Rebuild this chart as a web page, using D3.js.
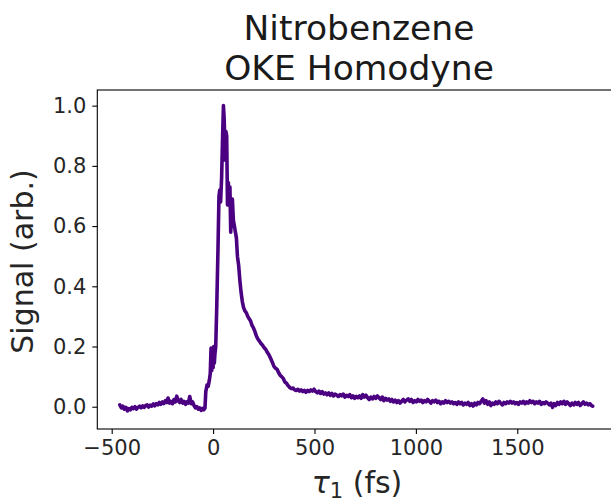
<!DOCTYPE html>
<html>
<head>
<meta charset="utf-8">
<script src="https://cdn.jsdelivr.net/npm/d3@7"></script>
<style>
  html, body { margin: 0; padding: 0; background: #fff; }
  svg { display: block; font-family: "DejaVu Sans", sans-serif; }
</style>
</head>
<body>
<svg id="chart" width="611" height="499"></svg>
<script>
// ---- data ----
const titleLines = ["Nitrobenzene", "OKE Homodyne"];
const yLabel = "Signal (arb.)";
const xTicks = [-500, 0, 500, 1000, 1500];
const yTicks = [0.0, 0.2, 0.4, 0.6, 0.8, 1.0];
const xLimits = [-571, 2010];
const yLimits = [-0.074, 1.052];

const delays = [
  -460,-452,-445,-438,-430,-422,-415,-408,-400,-393,-385,-378,-370,-362,-355,-347,-340,-332,-325,-318,
  -310,-303,-295,-288,-280,-272,-265,-258,-250,-243,-235,-228,-222,-215,-208,-200,-193,-186,-179,-172,
  -165,-158,-150,-143,-136,-129,-122,-115,-108,-101,-94,-87,-80,-73,-66,-59,-52,-46,-40,-36,
  -30,-24,-18,-14,-10,-7,-4,0,3,6,9,13,18,24,29,33,37,42,47,51,
  55,59,63,67,71,75,79,83,87,91,95,100,105,110,115,120,126,132,138,144,
  150,157,164,171,178,185,192,199,206,213,220,228,236,244,252,260,268,276,284,292,
  300,308,316,324,331,338,346,354,362,370,378,386,394,402,410,418,426,434,442,450,
  458,466,474,482,490,498,506,514,522,530,538,546,554,562,570,578,586,594,602,610,
  618,626,634,642,650,658,666,674,682,690,698,706,714,722,730,738,746,754,762,770,
  778,786,794,802,810,818,826,834,842,850,858,866,874,882,890,898,906,914,922,930,
  938,946,954,962,970,978,986,994,1002,1010,1018,1026,1034,1042,1050,1058,1066,1074,1082,1090,
  1098,1106,1114,1122,1130,1138,1146,1154,1162,1170,1178,1186,1194,1202,1210,1218,1226,1234,1242,1250,
  1258,1266,1274,1282,1290,1298,1306,1314,1322,1330,1338,1346,1354,1362,1370,1378,1386,1394,1402,1410,
  1418,1426,1434,1442,1450,1458,1466,1474,1482,1490,1498,1506,1514,1522,1530,1538,1546,1554,1562,1570,
  1578,1586,1594,1602,1610,1618,1626,1634,1642,1650,1658,1666,1674,1682,1690,1698,1706,1714,1722,1730,
  1738,1746,1754,1762,1770,1778,1786,1794,1802,1810,1818,1826,1834,1842,1850,1858,1866,1872
];
const signal = [
  0.006,-0.004,0.002,-0.008,-0.002,-0.014,-0.006,-0.010,-0.002,-0.006,0.000,-0.008,-0.002,0.002,-0.004,0.003,-0.002,0.004,0.006,-0.001,
  0.005,0.002,0.009,0.003,0.010,0.006,0.014,0.008,0.016,0.010,0.020,0.014,0.029,0.012,0.018,0.010,0.024,0.016,0.035,0.020,
  0.014,0.024,0.012,0.018,0.008,0.016,0.012,0.034,0.010,0.016,0.004,-0.004,0.000,-0.008,-0.004,-0.012,-0.006,-0.010,-0.004,0.050,
  0.072,0.068,0.090,0.110,0.195,0.120,0.185,0.130,0.200,0.145,0.175,0.200,0.330,0.520,0.700,0.720,0.680,0.760,0.900,1.000,
  0.950,0.820,0.915,0.900,0.670,0.745,0.700,0.730,0.580,0.650,0.690,0.620,0.600,0.580,0.560,0.500,0.470,0.420,0.380,0.350,
  0.330,0.318,0.312,0.300,0.292,0.285,0.270,0.262,0.250,0.236,0.226,0.218,0.210,0.204,0.196,0.190,0.180,0.172,0.160,0.148,
  0.134,0.128,0.124,0.112,0.104,0.100,0.094,0.082,0.078,0.070,0.064,0.060,0.062,0.056,0.054,0.058,0.052,0.056,0.050,0.054,
  0.048,0.054,0.050,0.056,0.052,0.058,0.050,0.046,0.052,0.044,0.050,0.042,0.046,0.040,0.046,0.038,0.044,0.036,0.042,0.038,
  0.034,0.040,0.036,0.042,0.032,0.038,0.034,0.040,0.030,0.036,0.028,0.034,0.030,0.036,0.028,0.040,0.032,0.038,0.030,0.024,
  0.032,0.026,0.034,0.028,0.036,0.030,0.024,0.032,0.020,0.028,0.022,0.026,0.018,0.024,0.016,0.022,0.014,0.020,0.012,0.018,
  0.024,0.016,0.022,0.026,0.018,0.024,0.014,0.020,0.016,0.024,0.018,0.022,0.014,0.020,0.016,0.024,0.018,0.012,0.020,0.016,
  0.022,0.014,0.018,0.010,0.016,0.012,0.020,0.014,0.018,0.012,0.016,0.010,0.014,0.008,0.016,0.010,0.014,0.006,0.012,0.008,
  0.014,0.004,0.010,0.002,0.012,0.006,0.014,0.010,0.018,0.026,0.012,0.020,0.008,0.016,0.004,0.012,0.008,0.016,0.010,0.018,
  0.012,0.006,0.014,0.010,0.016,0.012,0.018,0.012,0.016,0.010,0.014,0.008,0.016,0.012,0.018,0.010,0.016,0.012,0.020,0.014,
  0.018,0.010,0.016,0.012,0.018,0.008,0.014,0.010,0.016,0.012,0.006,0.012,-0.002,0.010,0.004,0.014,0.008,0.016,0.010,0.018,
  0.008,0.016,0.010,0.004,0.012,0.006,0.014,0.008,0.014,0.004,0.010,0.016,0.008,0.012,0.006,0.010,0.004,0.002
];

// ---- layout ----
const svg = d3.select("#chart");
const plot = { left: 97.3, right: 620.7, top: 90, bottom: 429 };

const x = d3.scaleLinear().domain(xLimits).range([plot.left, plot.right]);
const y = d3.scaleLinear().domain(yLimits).range([plot.bottom, plot.top]);

const fmtX = d => (d < 0 ? "\u2212" + Math.abs(d) : String(d));
const fmtY = d => d.toFixed(1);

// clip
svg.append("defs").append("clipPath").attr("id", "clip")
  .append("rect").attr("x", plot.left).attr("y", plot.top)
  .attr("width", plot.right - plot.left).attr("height", plot.bottom - plot.top);

// line
const pts = delays.map((d, i) => [d, signal[i]]);
svg.append("path")
  .datum(pts)
  .attr("clip-path", "url(#clip)")
  .attr("fill", "none")
  .attr("stroke", "#4b0082")
  .attr("stroke-width", 3.6)
  .attr("stroke-linejoin", "round")
  .attr("stroke-linecap", "round")
  .attr("d", d3.line().x(d => x(d[0])).y(d => y(d[1])));

// frame
svg.append("rect")
  .attr("x", plot.left).attr("y", plot.top)
  .attr("width", plot.right - plot.left).attr("height", plot.bottom - plot.top)
  .attr("fill", "none").attr("stroke", "#000").attr("stroke-width", 1.1);

// axes
const xAxis = svg.append("g")
  .attr("transform", `translate(0,${plot.bottom})`)
  .call(d3.axisBottom(x).tickValues(xTicks).tickFormat(fmtX).tickSize(5).tickPadding(6));
const yAxis = svg.append("g")
  .attr("transform", `translate(${plot.left},0)`)
  .call(d3.axisLeft(y).tickValues(yTicks).tickFormat(fmtY).tickSize(5).tickPadding(6));

[xAxis, yAxis].forEach(g => {
  g.select(".domain").remove();
  g.selectAll(".tick line").attr("stroke", "#000").attr("stroke-width", 1.1);
  g.selectAll(".tick text")
    .attr("fill", "#262626")
    .style("font-family", "'DejaVu Sans', sans-serif")
    .style("font-size", "21px");
});

// title
const cx = (plot.left + plot.right) / 2;
svg.append("text")
  .attr("x", cx).attr("y", 39.5)
  .attr("text-anchor", "middle")
  .style("font-size", "34.5px").attr("fill", "#1a1a1a")
  .text(titleLines[0]);
svg.append("text")
  .attr("x", cx).attr("y", 80)
  .attr("text-anchor", "middle")
  .style("font-size", "34.5px").attr("fill", "#1a1a1a")
  .text(titleLines[1]);

// y label
svg.append("text")
  .attr("transform", `translate(33,${(plot.top + plot.bottom) / 2 + 2}) rotate(-90)`)
  .attr("text-anchor", "middle")
  .style("font-size", "30px").attr("fill", "#262626")
  .text(yLabel);

// x label: tau with subscript 1
const xl = svg.append("text")
  .attr("x", cx - 2).attr("y", 493)
  .attr("text-anchor", "middle")
  .style("font-size", "30px").attr("fill", "#262626");
xl.append("tspan").style("font-style", "italic").text("\u03C4");
xl.append("tspan").attr("dy", 5).style("font-size", "21px").text("1");
xl.append("tspan").attr("dy", -5).text(" (fs)");
</script>
</body>
</html>
